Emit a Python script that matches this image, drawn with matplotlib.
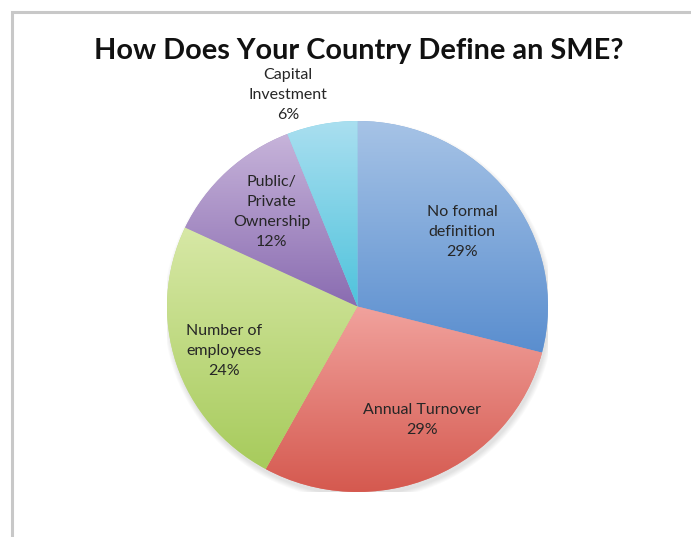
import numpy as np
import matplotlib.pyplot as plt
from matplotlib.colors import LinearSegmentedColormap
from matplotlib.patches import Rectangle, Ellipse

categories = ["No formal\ndefinition", "Annual Turnover", "Number of\nemployees",
              "Public/\nPrivate\nOwnership", "Capital\nInvestment"]
shares = [29, 29, 24, 12, 6]

# light (top) and dark (bottom) shade of each slice
top_colors = ["#a6c3e6", "#f1a29d", "#d7e8a6", "#c7b4da", "#aadff0"]
bottom_colors = ["#5a8ecf", "#d5594f", "#a7cb5c", "#8a6cb1", "#4fc3dc"]

# label centres in pie units
label_xy = [(0.55, 0.40), (0.34, -0.61), (-0.70, -0.24), (-0.45, 0.51), (-0.365, 1.14)]

W, H = 691, 537
fig = plt.figure(figsize=(W / 100, H / 100), dpi=100)
fig.patch.set_facecolor("white")

# outer frame, running off the right and bottom edges
fig.patches.append(Rectangle((11.5 / W, -0.05), 1.1, 1 - 11.5 / H + 0.05,
                             transform=fig.transFigure, fill=False,
                             ec="#c8c8c8", lw=2.2))

fig.text(359 / W, 1 - 59 / H, "How Does Your Country Define an SME?",
         ha="center", va="baseline", fontsize=20.8, fontweight="bold",
         family="Lato", color="#111111")

ax = fig.add_axes([167 / W, 45 / H, 381 / W, 371 / H])

# soft shadow under the pie
for k in range(6):
    ax.add_patch(Ellipse((0.008, -0.022), 2.0 + 0.01 * k, 2.0 + 0.01 * k,
                         fc="#000000", ec="none", alpha=0.02, zorder=0))

wedges, _ = ax.pie(shares, startangle=90, counterclock=False, radius=1,
                   wedgeprops=dict(lw=0))

for w, c0, c1 in zip(wedges, top_colors, bottom_colors):
    t = np.radians(np.linspace(w.theta1, w.theta2, 200))
    xs = np.concatenate([[0], np.cos(t)])
    ys = np.concatenate([[0], np.sin(t)])
    cmap = LinearSegmentedColormap.from_list("g", [c1, c0])
    w.set_facecolor(cmap(0.5))
    w.set_zorder(1)
    grad = np.linspace(0, 1, 256).reshape(-1, 1)
    im = ax.imshow(grad, cmap=cmap, origin="lower", aspect="auto",
                   extent=[xs.min(), xs.max(), ys.min(), ys.max()], zorder=2)
    im.set_clip_path(w)

for (x, y), cat, s in zip(label_xy, categories, shares):
    ax.text(x, y, f"{cat}\n{s}%", ha="center", va="center", fontsize=11.5,
            family="Lato", color="#262626", linespacing=1.55, zorder=3)

ax.set_aspect("auto")
ax.set_xlim(-1, 1)
ax.set_ylim(-1, 1)
ax.axis("off")

fig.savefig("out.png", dpi=100)
